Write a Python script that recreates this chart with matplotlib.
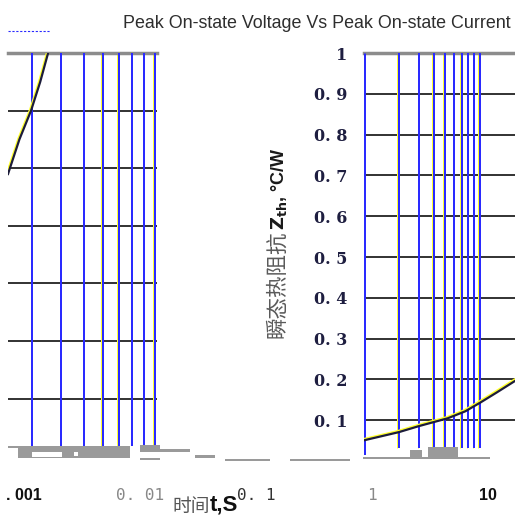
import numpy as np
import matplotlib.pyplot as plt
from matplotlib.lines import Line2D
from matplotlib.patches import Rectangle
import matplotlib.transforms as mtransforms

W, H = 515, 518

# data
left_grid_x = [0.003, 0.004, 0.005, 0.006, 0.007, 0.008, 0.009, 0.01]
left_grid_y = [0.4, 0.5, 0.6, 0.7, 0.8, 0.9]
left_curve_t = [0.00237, 0.00265, 0.00297, 0.00325, 0.00351, 0.0040]
left_curve_z = [0.79, 0.85, 0.90, 0.95, 1.0, 1.08]

right_grid_x = [2, 3, 4, 5, 6, 7, 8, 9, 10]
right_grid_y = [0.1, 0.2, 0.3, 0.4, 0.5, 0.6, 0.7, 0.8, 0.9]
right_curve_t = [1.0, 2.0, 3.0, 5.3, 7.5, 10.2, 14.0, 20.6]
right_curve_z = [0.051, 0.071, 0.086, 0.105, 0.122, 0.144, 0.168, 0.198]

ytick_vals = [0.1, 0.2, 0.3, 0.4, 0.5, 0.6, 0.7, 0.8, 0.9, 1.0]
ytick_text = ['0. 1', '0. 2', '0. 3', '0. 4', '0. 5', '0. 6', '0. 7', '0. 8', '0. 9', '1']
xtick_vals = [0.001, 0.01, 0.1, 1, 10]
xtick_text = ['. 001', '0. 01', '0. 1', '1', '10']

BLUE = '#2a2aff'
YEL = '#ffff30'
GRAY = '#8c8c8c'
PX = 0.72  # one pixel in points at dpi 100


def box(x0, y0, x1, y1):
    """pixel box -> figure fraction rect"""
    return [x0 / W, 1 - y1 / H, (x1 - x0) / W, (y1 - y0) / H]


def vgrid(ax, xs, ymin=0, ymax=1, wpx=2):
    # blue lines with a 1px yellow fringe on the left
    shift = mtransforms.offset_copy(ax.get_xaxis_transform(), fig=ax.figure,
                                    x=-(wpx + 1) / 2, y=0, units='dots')
    for x in xs:
        ax.plot([x, x], [ymin, ymax], color=YEL, lw=PX, transform=shift,
                solid_capstyle='butt', snap=True, zorder=2)
        ax.plot([x, x], [ymin, ymax], color=BLUE, lw=wpx * PX, snap=True,
                transform=ax.get_xaxis_transform(), solid_capstyle='butt', zorder=3)


def curve(ax, t, z):
    shift = mtransforms.offset_copy(ax.transData, fig=ax.figure, x=-1, y=1.2, units='dots')
    ax.plot(t, z, color=YEL, lw=1.4, transform=shift, zorder=4)
    ax.plot(t, z, color='#1c1c3a', lw=1.6, zorder=5)


fig = plt.figure(figsize=(W / 100, H / 100), dpi=100)

# frame axis that carries the bottom tick labels
axf = fig.add_axes(box(0, 53, W, 478))
axf.set_xscale('log')
axf.set_xlim(10 ** (-372 / 116), 10 ** (143 / 116))
axf.set_xticks(xtick_vals)
axf.set_xticklabels(xtick_text)
axf.xaxis.set_minor_locator(plt.NullLocator())
axf.set_yticks([])
axf.tick_params(axis='x', length=0, pad=7)
for s in axf.spines.values():
    s.set_visible(False)
axf.patch.set_alpha(0)
styles = [('Liberation Sans', 'bold', '#111111'),
          ('DejaVu Sans Mono', 'normal', '#888888'),
          ('DejaVu Sans Mono', 'normal', '#333333'),
          ('DejaVu Sans Mono', 'normal', '#888888'),
          ('Liberation Sans', 'bold', '#111111')]
for lab, (fam, wt, col) in zip(axf.get_xticklabels(), styles):
    lab.set_fontfamily(fam)
    lab.set_fontweight(wt)
    lab.set_color(col)
    lab.set_fontsize(11.5)

# left panel
axl = fig.add_axes(box(8, 53, 157, 446))
axl.set_xscale('log')
axl.set_xlim(0.00237, 0.0102)
axl.set_ylim(0.318, 1.0)
for y in left_grid_y:
    axl.axhline(y, color='#222222', lw=1.3, zorder=1)
vgrid(axl, left_grid_x)
curve(axl, left_curve_t, left_curve_z)
axl.set_xticks([])
axl.set_yticks([])
axl.xaxis.set_minor_locator(plt.NullLocator())
for k in ['left', 'right', 'bottom']:
    axl.spines[k].set_visible(False)
axl.spines['top'].set_color(GRAY)
axl.spines['top'].set_linewidth(2.5)

# right panel
axr = fig.add_axes(box(364, 53, 516, 455))
axr.set_xscale('log')
axr.set_xlim(1, 20.6)
axr.set_ylim(0.015, 1.0)
for y in right_grid_y:
    axr.axhline(y, color='#222222', lw=1.3, zorder=1)
vgrid(axr, right_grid_x, ymin=0.018, ymax=1)
vgrid(axr, [1.005], ymin=0, ymax=1, wpx=3)
curve(axr, right_curve_t, right_curve_z)
axr.set_xticks([])
axr.xaxis.set_minor_locator(plt.NullLocator())
axr.set_yticks(ytick_vals)
axr.set_yticklabels(ytick_text)
axr.tick_params(axis='y', length=0, pad=12, labelsize=11.5, labelcolor='#1e1e40')
for lab in axr.get_yticklabels():
    lab.set_fontfamily('DejaVu Serif')
    lab.set_fontweight('bold')
for k in ['left', 'right', 'bottom']:
    axr.spines[k].set_visible(False)
axr.spines['top'].set_color(GRAY)
axr.spines['top'].set_linewidth(2.5)

# y label, rotated, two parts
t1 = fig.text(277 / W, 1 - 338 / H, '瞬态热阻抗', rotation=90, ha='center', va='bottom',
              fontsize=15.5, color='#5a5a5a', family=['Noto Sans CJK SC', 'DejaVu Sans'])
axr.annotate(r'$\mathbf{Z}_{\mathbf{th}}$, °C/W', xy=(0.6, 1.0), xycoords=t1,
             rotation=90, ha='center', va='bottom', fontsize=13, fontweight='bold',
             color='#1a1a1a', family='Liberation Sans', annotation_clip=False)

# x label, two parts
t2 = fig.text(172 / W, 1 - 512 / H, '时间', ha='left', va='baseline', fontsize=13.5,
              color='#555555', family=['Noto Sans CJK SC', 'DejaVu Sans'])
axf.annotate('t,S', xy=(1.0, 0.08), xycoords=t2, ha='left', va='bottom',
             fontsize=16, fontweight='bold', color='#111111', family='Liberation Sans',
             annotation_clip=False)

# title and small dotted mark
fig.text(317 / W, 1 - 23 / H, 'Peak On-state Voltage Vs Peak On-state Current',
         ha='center', va='center', fontsize=12.9, color='#2e2e2e', family='Liberation Sans')
fig.add_artist(Line2D([8 / W, 50 / W], [1 - 31 / H, 1 - 31 / H], color=BLUE, lw=0.8,
                      linestyle=(0, (2, 1.5))))

# grey scan debris along the bottom
junk = [(8, 446, 130, 448), (18, 448, 130, 458), (140, 445, 160, 452), (157, 449, 190, 452),
        (140, 458, 160, 460), (195, 455, 215, 458), (225, 459, 270, 461), (290, 459, 350, 461),
        (363, 457, 490, 459), (410, 450, 422, 458), (428, 447, 458, 458)]
for x0, y0, x1, y1 in junk:
    fig.add_artist(Rectangle((x0 / W, 1 - y1 / H), (x1 - x0) / W, (y1 - y0) / H,
                             transform=fig.transFigure, color='#9a9a9a', lw=0))
holes = [(32, 452, 62, 457), (74, 452, 78, 456)]
for x0, y0, x1, y1 in holes:
    fig.add_artist(Rectangle((x0 / W, 1 - y1 / H), (x1 - x0) / W, (y1 - y0) / H,
                             transform=fig.transFigure, color='white', lw=0))

fig.savefig('out.png', dpi=100)
